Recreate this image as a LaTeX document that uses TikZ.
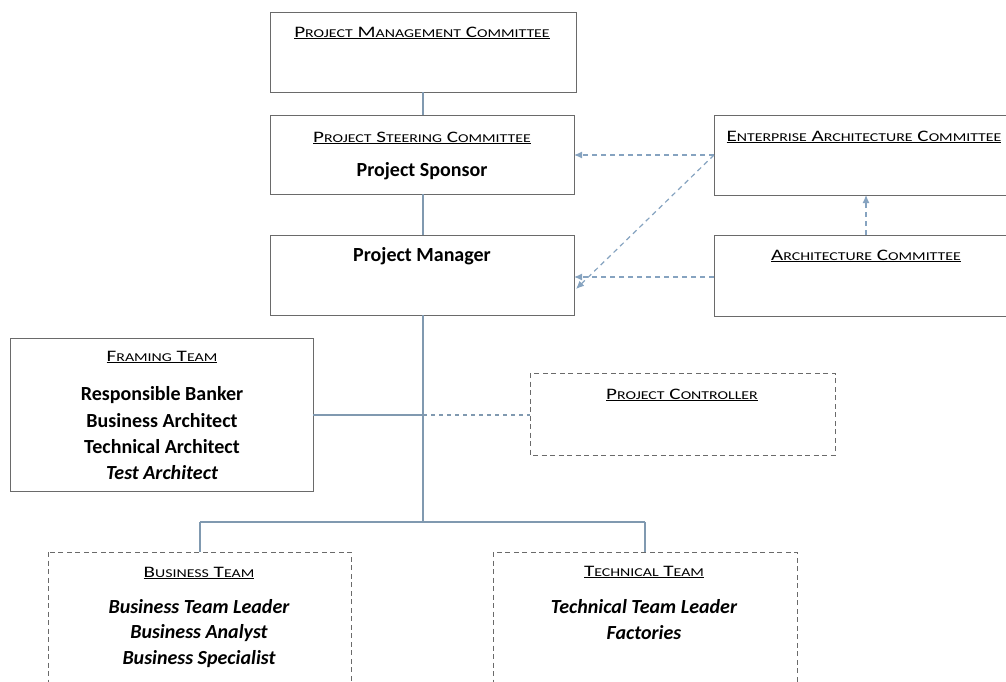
\documentclass[tikz,border=0pt]{standalone}
\usepackage{fontspec}
\setmainfont{Carlito}
\usetikzlibrary{arrows.meta}
\definecolor{boxline}{HTML}{6A6A6A}
\definecolor{linkline}{HTML}{8099B0}
\definecolor{advice}{HTML}{7193B5}
% hand-made small capitals for the underlined headings
\newcommand{\sck}[1]{{\fontsize{12}{14}\selectfont #1}}
\newcommand{\hd}[1]{\scalebox{1.32}[1]{\underline{\fontsize{16}{18}\selectfont #1}}}
\tikzset{
  solidbox/.style={draw=boxline, line width=1pt},
  dashbox/.style={draw=boxline, line width=1pt, dash pattern=on 5pt off 3.5pt},
  title/.style={inner sep=0pt, anchor=center},
  role/.style={inner sep=0pt, anchor=center, font=\fontsize{20}{22}\selectfont\bfseries},
  irole/.style={role, font=\fontsize{20}{22}\selectfont\bfseries\itshape},
  link/.style={draw=linkline, line width=1.2pt},
  dlink/.style={draw=linkline, line width=1.1pt, dash pattern=on 4pt off 4pt},
  advise/.style={draw=advice!85, line width=1.2pt, dash pattern=on 5pt off 4pt, -{Latex[length=8pt,width=7pt]}},
}
\begin{document}
\begin{tikzpicture}[x=1pt,y=-1pt]
\useasboundingbox (0,0) rectangle (1006,681);
\clip (0,0) rectangle (1006,681);

% boxes
\draw[solidbox] (270,12) rectangle (576,92);
\draw[solidbox] (270,115) rectangle (574,194);
\draw[solidbox] (270,235) rectangle (574,315);
\draw[solidbox] (714,115) rectangle (1012,195);
\draw[solidbox] (714,235) rectangle (1012,316);
\draw[solidbox] (10,338) rectangle (313,491);
\draw[dashbox] (530,373) rectangle (835,455);
\draw[dashbox] (48,552) rectangle (351,690);
\draw[dashbox] (493,552) rectangle (797,690);

% named anchor points
\coordinate (pmcB) at (423,92);
\coordinate (pscT) at (423,115);
\coordinate (pscB) at (423,194);
\coordinate (pmT) at (423,235);
\coordinate (pmB) at (423,315);
\coordinate (pscR) at (574,155);
\coordinate (pmR) at (574,277);
\coordinate (pmRd) at (576,289);
\coordinate (eacL) at (714,155);
\coordinate (eacB) at (866,195);
\coordinate (acL) at (714,277);
\coordinate (acT) at (866,235);
\coordinate (ftR) at (313,415);
\coordinate (spineF) at (423,415);
\coordinate (pcL) at (530,415);
\coordinate (spineE) at (423,522);
\coordinate (brL) at (200,522);
\coordinate (brR) at (645,522);
\coordinate (btT) at (200,552);
\coordinate (ttT) at (645,552);

% texts
\node[title] (pmc) at (422,33) {\hd{P\sck{ROJECT} M\sck{ANAGEMENT} C\sck{OMMITTEE}}};
\node[title] (psc) at (422,138) {\hd{P\sck{ROJECT} S\sck{TEERING} C\sck{OMMITTEE}}};
\node[role] (sponsor) at (422,171) {Project Sponsor};
\node[role] (pm) at (422,256) {Project Manager};
\node[title] (eac) at (864,137) {\hd{E\sck{NTERPRISE} A\sck{RCHITECTURE} C\sck{OMMITTEE}}};
\node[title] (ac) at (866,256) {\hd{A\sck{RCHITECTURE} C\sck{OMMITTEE}}};
\node[title] (ft) at (162,357) {\hd{F\sck{RAMING} T\sck{EAM}}};
\node[role] (ft1) at (162,395) {Responsible Banker};
\node[role] (ft2) at (162,421) {Business Architect};
\node[role] (ft3) at (162,447) {Technical Architect};
\node[irole] (ft4) at (162,473) {Test Architect};
\node[title] (pc) at (682,395) {\hd{P\sck{ROJECT} C\sck{ONTROLLER}}};
\node[title] (bt) at (199,573) {\hd{B\sck{USINESS} T\sck{EAM}}};
\node[irole] (bt1) at (199,607) {Business Team Leader};
\node[irole] (bt2) at (199,633) {Business Analyst};
\node[irole] (bt3) at (199,659) {Business Specialist};
\node[title] (tt) at (644,572) {\hd{T\sck{ECHNICAL} T\sck{EAM}}};
\node[irole] (tt1) at (644,607) {Technical Team Leader};
\node[irole] (tt2) at (644,633) {Factories};

% reporting lines
\draw[link] (pmcB) -- (pscT);
\draw[link] (pscB) -- (pmT);
\draw[link] (pmB) -- (spineE);
\draw[link] (ftR) -- (spineF);
\draw[link] (brL) -- (brR);
\draw[link] (brL) -- (btT);
\draw[link] (brR) -- (ttT);
\draw[dlink] (spineF) -- (pcL);

% advisory links
\draw[advise] (eacL) -- (pscR);
\draw[advise] (eacL) -- (pmRd);
\draw[advise] (acL) -- (pmR);
\draw[advise] (acT) -- (eacB);
\end{tikzpicture}
\end{document}
